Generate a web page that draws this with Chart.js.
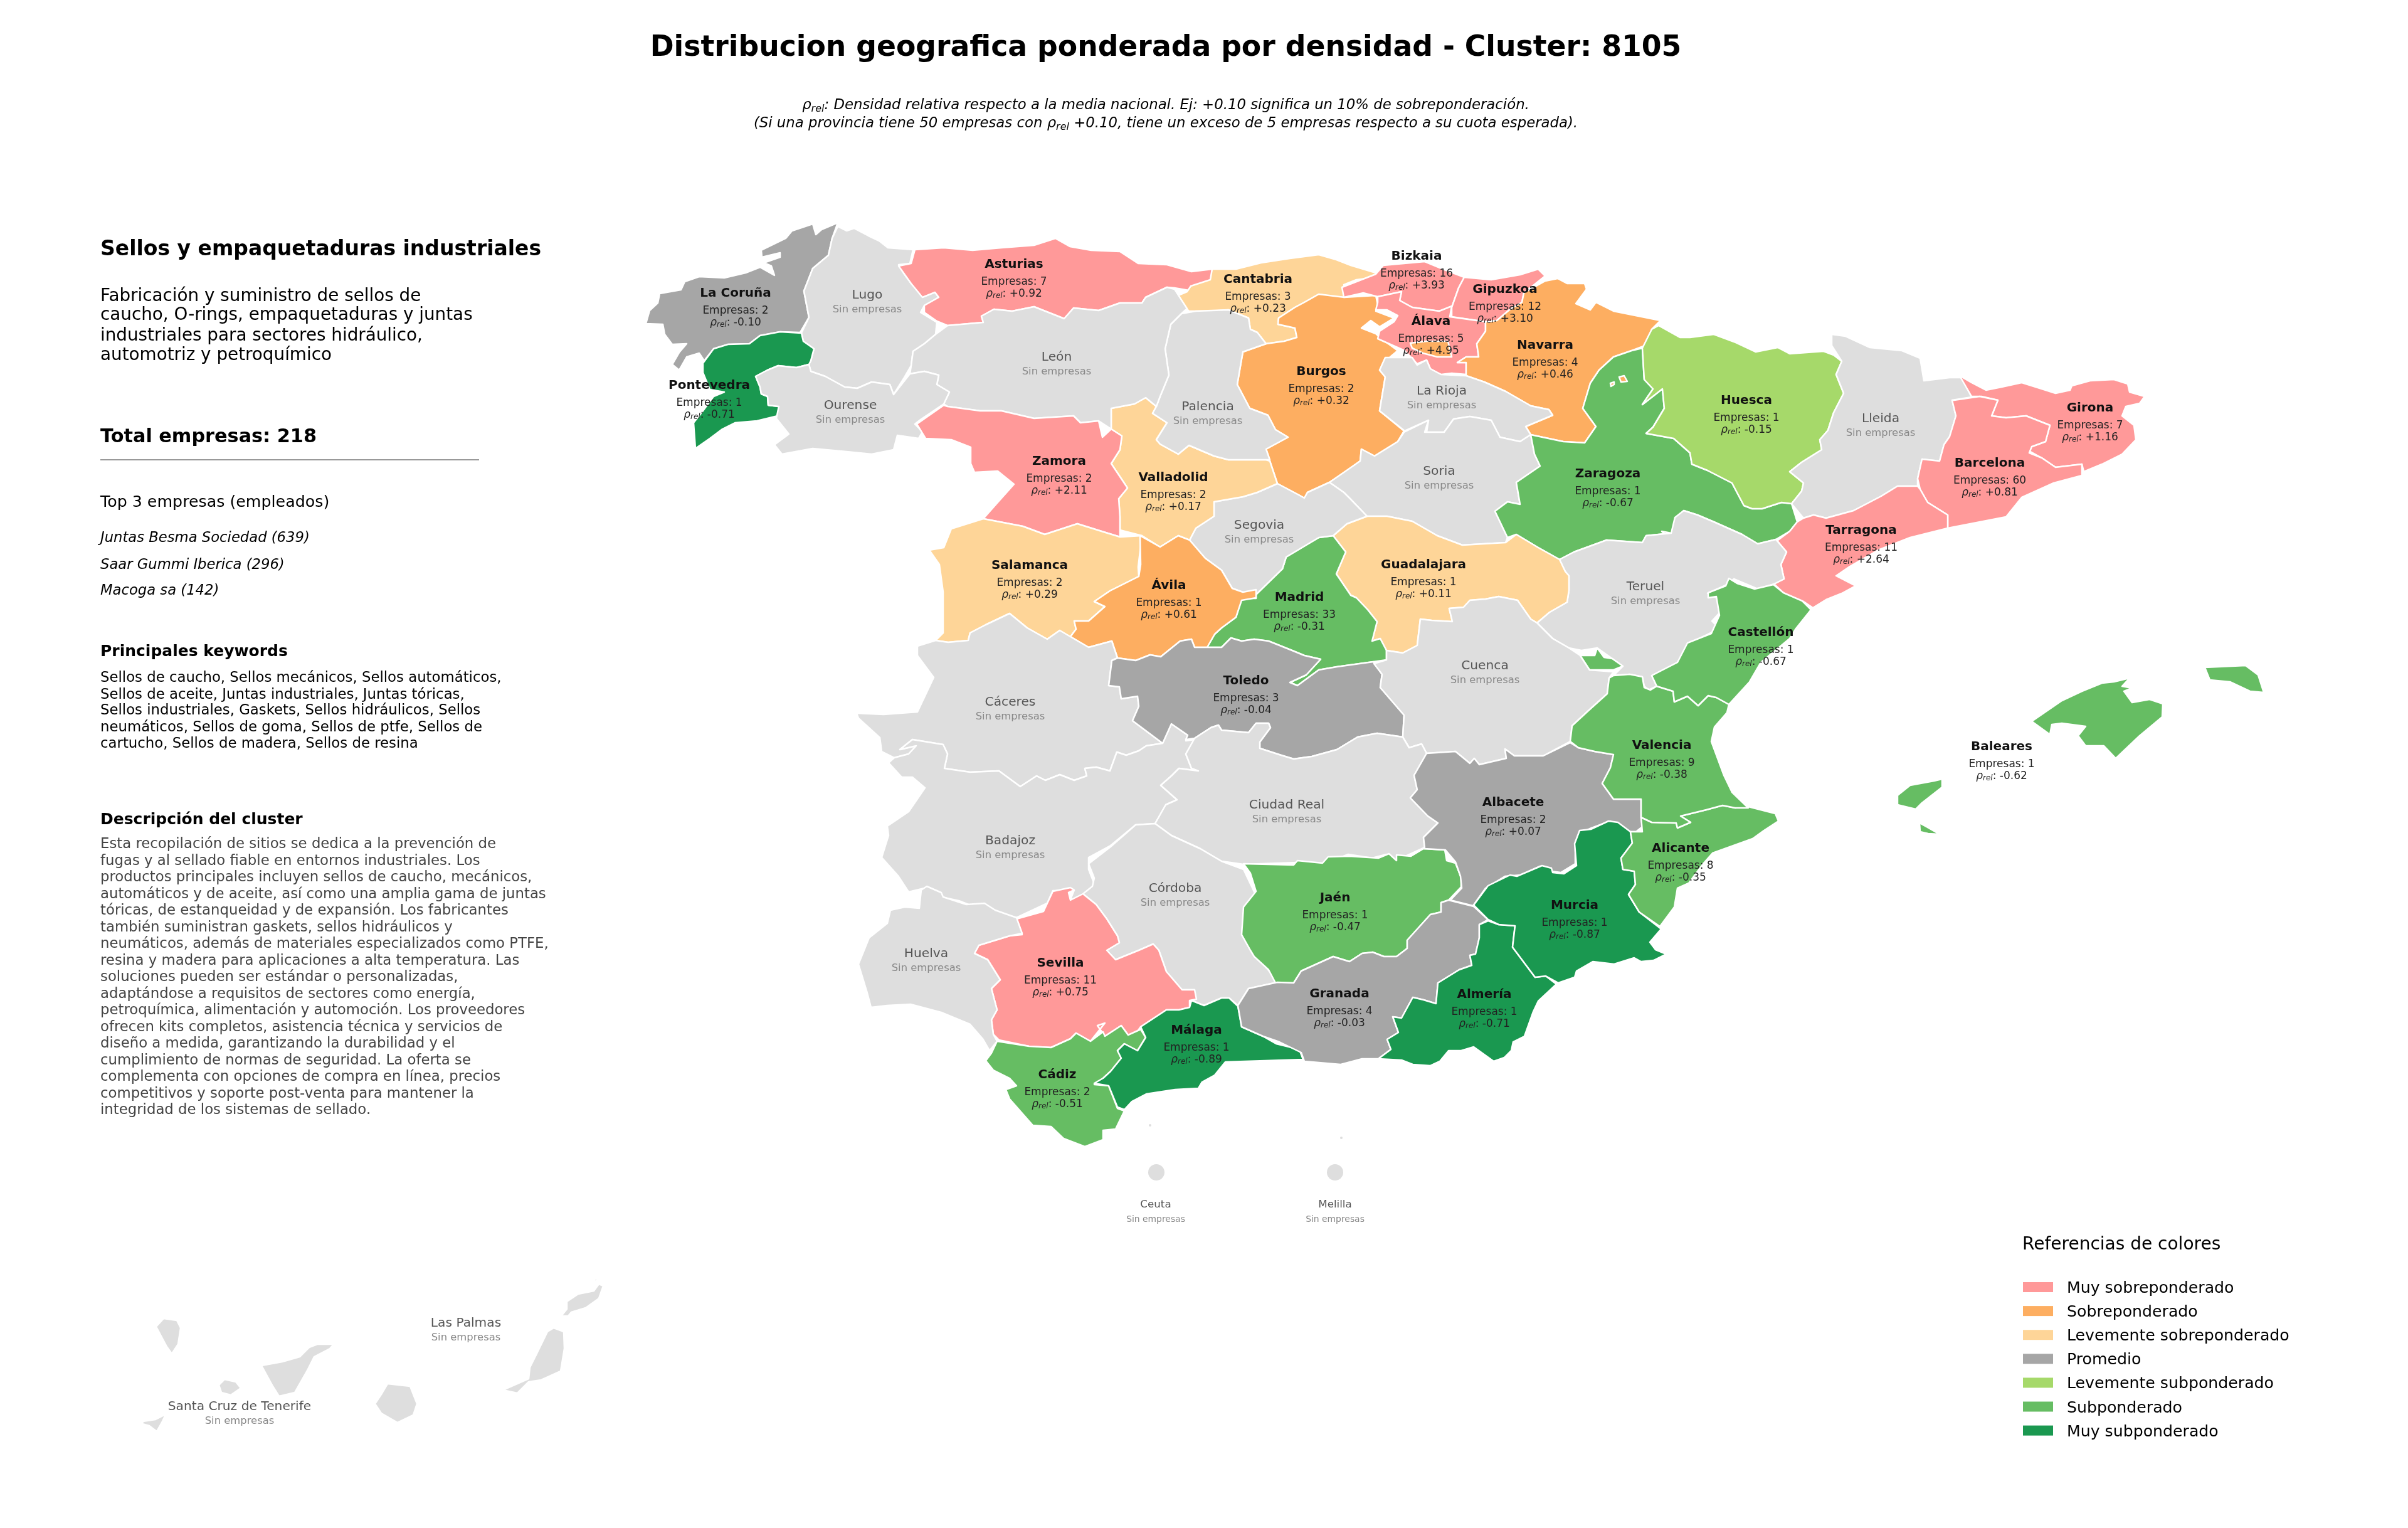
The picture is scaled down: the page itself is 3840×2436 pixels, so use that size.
<!DOCTYPE html>
<html>
<head>
<meta charset="utf-8">
<title>Cluster 8105</title>
<script src="https://cdn.jsdelivr.net/npm/chart.js@4/dist/chart.umd.js"></script>
<style>
  html, body { margin: 0; padding: 0; background: #fff; }
  canvas { display: block; }
</style>
</head>
<body>
<canvas id="map" width="3840" height="2436" style="width:3840px;height:2436px"></canvas>
<script>
// Province table, same order in every list
const provinceNames = ['La Coruña','Pontevedra','Lugo','Asturias','Cantabria','Burgos','Bizkaia','Gipuzkoa','Álava','Navarra','La Rioja','Soria','Zaragoza','Huesca','Lleida','Girona','Barcelona','Tarragona','Teruel','Guadalajara','Madrid','Segovia','Valladolid','Palencia','León','Ourense','Zamora','Salamanca','Ávila','Cáceres','Badajoz','Toledo','Cuenca','Ciudad Real','Córdoba','Sevilla','Huelva','Cádiz','Málaga','Jaén','Albacete','Granada','Almería','Murcia','Alicante','Valencia','Castellón','Baleares','Ceuta','Melilla','Las Palmas','Santa Cruz de Tenerife'];
const empresas = [2,1,0,7,3,2,16,12,5,4,0,0,1,1,0,7,60,11,0,1,33,0,2,0,0,0,2,2,1,0,0,3,0,0,0,11,0,2,1,1,2,4,1,1,8,9,1,1,0,0,0,0];
const rhoRel = ['-0.10','-0.71','','+0.92','+0.23','+0.32','+3.93','+3.10','+4.95','+0.46','','','-0.67','-0.15','','+1.16','+0.81','+2.64','','+0.11','-0.31','','+0.17','','','','+2.11','+0.29','+0.61','','','-0.04','','','','+0.75','','-0.51','-0.89','-0.47','+0.07','-0.03','-0.71','-0.87','-0.35','-0.38','-0.67','-0.62','','','',''];
const labelX = [1173,1131,1383,1617,2006,2107,2259,2400,2282,2464,2299,2295,2564,2785,2999,3333,3173,2968,2624,2270,2072,2008,1871,1926,1685,1356,1689,1642,1864,1611,1611,1987,2368,2052,1874,1691,1477,1686,1908,2129,2413,2136,2367,2511,2680,2650,2808,3192,1843,2129,743,382];
const labelY = [468,615,471,422,446,593,409,462,513,551,624,752,756,639,668,651,739,846,936,901,953,838,762,649,570,647,736,902,934,1120,1341,1086,1062,1284,1417,1536,1521,1714,1643,1432,1280,1585,1586,1444,1353,1189,1009,1191,1921,1921,2110,2243];

// Legend
const classNames = ['Muy sobreponderado','Sobreponderado','Levemente sobreponderado','Promedio','Levemente subponderado','Subponderado','Muy subponderado'];
const classColors = ['#ff9999','#fdae61','#fed598','#a6a6a6','#a6d96a','#66bd63','#1a9850','#dedede'];

// Outlines, in picture pixels
const laCoruna = [[1336,355],[1327,380],[1321,407],[1296,428],[1282,464],[1290,506],[1276,530],[1244,529],[1212,535],[1195,548],[1161,549],[1138,556],[1123,575],[1115,563],[1095,569],[1083,590],[1072,581],[1083,562],[1095,548],[1072,549],[1060,533],[1057,517],[1030,516],[1036,495],[1049,483],[1052,468],[1086,462],[1092,449],[1115,441],[1155,443],[1189,435],[1212,426],[1235,439],[1230,424],[1218,419],[1244,410],[1244,403],[1215,410],[1214,399],[1253,380],[1263,368],[1296,357],[1301,374],[1310,366]];
const pontevedra = [[1278,531],[1281,544],[1298,556],[1293,575],[1290,581],[1270,586],[1241,583],[1224,590],[1205,600],[1212,617],[1214,628],[1224,632],[1225,646],[1242,648],[1240,663],[1207,671],[1172,674],[1152,684],[1132,699],[1109,715],[1106,674],[1118,659],[1138,632],[1155,625],[1132,621],[1121,594],[1121,579],[1138,556],[1161,549],[1195,548],[1212,535],[1244,529]];
const lugo = [[1336,361],[1350,368],[1362,364],[1385,376],[1402,384],[1416,395],[1456,398],[1451,420],[1433,422],[1442,437],[1453,452],[1471,472],[1491,466],[1497,474],[1474,487],[1468,498],[1494,514],[1492,533],[1474,548],[1456,560],[1453,583],[1442,602],[1425,629],[1419,613],[1390,609],[1367,619],[1347,617],[1316,600],[1293,592],[1290,581],[1293,575],[1298,556],[1281,544],[1278,531],[1290,506],[1282,464],[1296,428],[1321,407],[1327,380]];
const asturias = [[1459,398],[1505,395],[1551,399],[1597,395],[1649,391],[1683,380],[1706,393],[1740,399],[1786,401],[1815,420],[1861,422],[1900,433],[1933,429],[1933,450],[1896,463],[1873,459],[1861,458],[1827,474],[1821,483],[1786,483],[1752,495],[1712,491],[1697,508],[1649,489],[1614,496],[1585,493],[1565,504],[1568,514],[1511,519],[1494,512],[1474,498],[1474,487],[1497,474],[1491,466],[1471,474],[1453,452],[1433,424],[1453,420]];
const cantabria = [[1933,429],[1971,429],[2011,419],[2057,412],[2103,406],[2131,414],[2154,423],[2194,435],[2194,442],[2163,446],[2143,454],[2144,474],[2126,473],[2103,469],[2080,482],[2065,490],[2039,507],[2038,517],[2065,523],[2068,538],[2048,544],[2019,548],[2005,530],[1994,525],[1991,507],[1959,494],[1930,496],[1896,496],[1890,490],[1874,473],[1893,465],[1899,456],[1930,446]];
const burgos = [[2103,469],[2144,474],[2194,471],[2197,486],[2194,496],[2223,507],[2200,521],[2186,511],[2171,523],[2194,532],[2203,540],[2229,559],[2217,569],[2200,590],[2209,601],[2200,655],[2239,687],[2229,704],[2192,727],[2171,716],[2169,735],[2143,754],[2120,769],[2085,785],[2080,794],[2071,789],[2037,771],[2025,735],[2019,716],[2054,697],[2034,685],[2022,662],[1993,651],[1973,613],[1979,578],[1982,561],[2019,548],[2048,544],[2068,538],[2065,523],[2038,517],[2039,507],[2065,490],[2080,482]];
const bizkaia = [[2194,437],[2206,423],[2272,417],[2301,429],[2335,442],[2326,459],[2315,490],[2295,496],[2252,490],[2232,479],[2235,465],[2197,473],[2174,467],[2143,474],[2140,458]];
const gipuzkoa = [[2335,442],[2378,446],[2424,438],[2453,429],[2464,440],[2430,467],[2427,482],[2407,494],[2387,511],[2369,513],[2315,505],[2315,490],[2326,459]];
const alava = [[2197,473],[2235,465],[2232,479],[2252,490],[2295,496],[2315,488],[2312,505],[2369,513],[2369,528],[2355,548],[2358,569],[2338,569],[2324,578],[2338,578],[2338,597],[2315,595],[2298,597],[2281,588],[2275,574],[2260,580],[2240,559],[2197,540],[2200,528],[2223,513],[2229,503],[2212,494],[2194,494],[2197,482]];
const trevino = [[2249,547],[2275,544],[2309,544],[2315,569],[2292,569],[2269,563],[2252,555]];
const navarra = [[2430,467],[2464,448],[2484,444],[2499,452],[2527,452],[2530,461],[2513,484],[2536,494],[2545,482],[2573,496],[2648,511],[2634,525],[2631,548],[2602,559],[2573,569],[2550,590],[2536,611],[2524,651],[2545,680],[2527,706],[2493,704],[2441,693],[2433,680],[2476,662],[2470,653],[2441,647],[2401,624],[2367,609],[2338,599],[2338,578],[2324,578],[2338,569],[2358,569],[2355,548],[2369,528],[2369,513],[2387,511],[2407,494],[2427,482]];
const laRioja = [[2209,570],[2252,570],[2260,582],[2275,574],[2281,588],[2298,597],[2338,599],[2367,609],[2401,624],[2441,647],[2470,653],[2476,662],[2433,680],[2441,693],[2424,704],[2392,697],[2378,670],[2344,664],[2318,668],[2303,689],[2275,689],[2278,670],[2240,687],[2200,655],[2209,601],[2200,590]];
const soria = [[2239,689],[2278,670],[2272,689],[2303,689],[2318,668],[2344,664],[2378,670],[2392,697],[2424,704],[2441,693],[2447,724],[2456,743],[2418,769],[2424,804],[2404,800],[2384,815],[2404,857],[2401,865],[2332,869],[2292,854],[2252,831],[2212,823],[2180,823],[2154,796],[2143,785],[2120,769],[2169,735],[2171,716],[2192,727],[2229,704]];
const zaragoza = [[2619,555],[2622,605],[2636,620],[2619,645],[2651,620],[2654,651],[2636,681],[2625,691],[2669,699],[2695,722],[2698,740],[2723,750],[2762,770],[2781,806],[2794,811],[2810,811],[2841,801],[2857,803],[2866,832],[2854,847],[2832,860],[2803,867],[2778,852],[2733,832],[2707,821],[2685,814],[2672,832],[2676,847],[2660,857],[2650,847],[2665,850],[2625,854],[2619,865],[2562,861],[2510,880],[2487,892],[2453,873],[2418,852],[2404,857],[2384,815],[2404,800],[2424,804],[2418,769],[2456,743],[2447,724],[2441,693],[2493,704],[2527,706],[2545,680],[2524,651],[2536,611],[2550,590],[2573,569],[2602,559]];
const petilla = [[2582,601],[2590,599],[2595,608],[2585,609]];
const petillaEast = [[2568,611],[2574,609],[2574,613],[2569,616]];
const huesca = [[2645,519],[2679,538],[2695,538],[2733,533],[2768,546],[2800,561],[2835,554],[2854,564],[2908,560],[2924,566],[2937,576],[2928,597],[2940,627],[2924,658],[2915,686],[2902,701],[2905,717],[2873,737],[2854,752],[2876,770],[2873,783],[2857,803],[2841,801],[2810,811],[2794,811],[2781,806],[2762,770],[2723,750],[2698,740],[2695,722],[2669,699],[2625,691],[2636,681],[2654,651],[2651,620],[2619,645],[2636,620],[2622,605],[2619,555],[2634,525]];
const lleida = [[2921,533],[2943,536],[2982,554],[3033,559],[3062,571],[3068,607],[3109,602],[3128,602],[3144,633],[3113,638],[3119,663],[3109,696],[3100,709],[3093,735],[3065,732],[3058,763],[3058,775],[3026,775],[3000,791],[2956,814],[2912,826],[2892,821],[2876,826],[2857,803],[2873,783],[2876,770],[2854,752],[2873,737],[2905,717],[2902,701],[2915,686],[2924,658],[2940,627],[2928,597],[2937,576],[2921,551]];
const girona = [[3125,599],[3144,610],[3167,622],[3192,617],[3224,610],[3256,620],[3278,627],[3301,622],[3304,615],[3333,607],[3371,605],[3393,612],[3396,625],[3420,632],[3412,643],[3390,648],[3384,663],[3403,678],[3406,701],[3384,724],[3352,740],[3323,752],[3320,740],[3278,745],[3256,730],[3236,719],[3240,712],[3262,704],[3269,678],[3231,663],[3199,666],[3176,663],[3186,638],[3160,632],[3144,632]];
const barcelona = [[3116,638],[3157,632],[3186,638],[3176,663],[3199,666],[3231,663],[3269,678],[3262,704],[3240,712],[3236,722],[3256,730],[3278,745],[3320,740],[3320,758],[3275,770],[3224,793],[3199,824],[3106,842],[3106,821],[3090,811],[3074,801],[3062,780],[3058,763],[3065,732],[3093,735],[3100,709],[3109,696],[3119,663],[3113,638]];
const tarragona = [[3058,775],[3062,780],[3074,801],[3090,811],[3106,821],[3106,842],[3046,857],[2995,877],[2950,903],[2928,918],[2959,934],[2937,946],[2912,956],[2891,969],[2876,959],[2848,949],[2829,931],[2845,923],[2840,900],[2849,880],[2834,862],[2854,847],[2866,832],[2876,826],[2892,821],[2912,826],[2956,814],[3000,791],[3026,775]];
const teruel = [[2487,892],[2510,880],[2562,861],[2619,865],[2625,854],[2665,850],[2671,825],[2685,814],[2707,821],[2733,832],[2778,852],[2803,867],[2832,860],[2849,880],[2840,900],[2845,923],[2829,931],[2803,939],[2765,923],[2752,933],[2723,946],[2739,954],[2742,977],[2730,990],[2742,1002],[2695,1025],[2675,1056],[2634,1077],[2642,1094],[2629,1100],[2622,1094],[2619,1079],[2599,1075],[2573,1077],[2588,1062],[2571,1050],[2547,1033],[2522,1037],[2502,1033],[2476,1018],[2451,993],[2471,976],[2499,960],[2502,941],[2502,918],[2496,911]];
const guadalajara = [[2180,823],[2212,823],[2252,831],[2292,854],[2332,869],[2401,865],[2418,852],[2453,873],[2487,892],[2496,911],[2502,918],[2502,941],[2499,960],[2471,976],[2451,993],[2441,987],[2420,957],[2390,951],[2369,955],[2344,957],[2334,968],[2311,970],[2316,991],[2283,989],[2265,987],[2260,1029],[2237,1041],[2211,1037],[2201,1018],[2188,1022],[2196,991],[2181,972],[2163,953],[2154,949],[2131,915],[2146,880],[2126,854],[2148,835]];
const madrid = [[2126,854],[2146,880],[2131,915],[2154,949],[2163,953],[2181,972],[2196,991],[2188,1022],[2201,1018],[2211,1037],[2211,1052],[2190,1055],[2132,1063],[2103,1068],[2069,1093],[2057,1088],[2083,1076],[2106,1051],[2080,1045],[2058,1036],[2023,1022],[2000,1019],[1980,1022],[1963,1017],[1948,1032],[1925,1032],[1937,1011],[1948,1001],[1971,984],[1980,954],[2003,954],[2003,938],[2045,907],[2051,888],[2103,857]];
const segovia = [[2037,771],[2071,789],[2080,794],[2085,785],[2120,769],[2143,785],[2154,796],[2180,823],[2148,835],[2126,854],[2103,857],[2051,888],[2045,907],[2002,949],[1982,944],[1965,938],[1948,909],[1922,890],[1897,861],[1907,842],[1936,823],[1936,800],[1982,792],[2005,785]];
const valladolid = [[1772,651],[1809,644],[1827,634],[1844,648],[1838,659],[1861,674],[1844,701],[1850,708],[1879,724],[1896,710],[1936,727],[1959,733],[2019,733],[2025,735],[2037,771],[2005,785],[1982,792],[1936,800],[1936,823],[1907,842],[1897,861],[1879,854],[1850,872],[1821,854],[1786,845],[1786,824],[1784,795],[1798,778],[1772,739],[1786,717],[1789,695],[1772,684]];
const palencia = [[1884,500],[1907,496],[1959,494],[1991,507],[1994,525],[2005,530],[2019,548],[1982,561],[1979,578],[1973,613],[1993,651],[2022,662],[2034,685],[2054,697],[2019,716],[2025,733],[1959,733],[1936,727],[1896,710],[1879,724],[1850,708],[1844,701],[1861,674],[1838,659],[1844,648],[1850,632],[1864,598],[1858,556],[1867,517]];
const leon = [[1511,519],[1568,514],[1565,504],[1585,493],[1614,496],[1649,489],[1697,508],[1712,491],[1752,495],[1786,483],[1821,483],[1827,474],[1861,458],[1873,461],[1893,492],[1884,500],[1867,517],[1858,556],[1864,598],[1850,632],[1844,648],[1827,634],[1809,644],[1772,651],[1772,684],[1752,671],[1723,674],[1712,663],[1649,667],[1597,655],[1563,655],[1511,648],[1505,644],[1514,625],[1494,613],[1497,598],[1474,592],[1451,596],[1453,583],[1456,560],[1474,548],[1492,533]];
const ourense = [[1205,600],[1224,590],[1241,583],[1270,586],[1290,581],[1293,592],[1316,600],[1347,617],[1367,619],[1390,609],[1419,613],[1425,629],[1451,596],[1474,592],[1497,598],[1494,613],[1514,625],[1505,644],[1468,669],[1459,676],[1471,688],[1465,699],[1431,694],[1425,717],[1390,724],[1350,720],[1296,715],[1247,724],[1235,709],[1258,692],[1238,667],[1242,648],[1225,646],[1224,632],[1214,628],[1212,617]];
const zamora = [[1505,646],[1511,648],[1563,655],[1597,655],[1649,667],[1712,663],[1723,674],[1752,671],[1758,697],[1772,684],[1789,695],[1786,717],[1772,739],[1798,778],[1784,795],[1786,824],[1786,856],[1763,849],[1718,835],[1666,852],[1631,839],[1568,827],[1591,801],[1617,772],[1591,751],[1554,753],[1548,739],[1548,713],[1517,701],[1476,699],[1462,676]];
const salamanca = [[1568,827],[1631,839],[1666,852],[1718,835],[1763,849],[1786,856],[1821,854],[1815,904],[1816,919],[1770,942],[1745,959],[1762,967],[1736,990],[1713,990],[1716,1003],[1707,1015],[1693,1015],[1690,1005],[1670,1019],[1638,1001],[1610,978],[1572,996],[1547,1009],[1544,1021],[1512,1024],[1492,1021],[1504,1009],[1504,944],[1498,900],[1482,877],[1505,873],[1517,843]];
const avila = [[1818,854],[1850,872],[1879,854],[1897,861],[1922,890],[1948,909],[1965,938],[1982,944],[2003,940],[2003,953],[1980,957],[1971,984],[1948,1001],[1937,1011],[1925,1032],[1905,1032],[1900,1019],[1882,1022],[1851,1047],[1834,1044],[1811,1053],[1782,1049],[1773,1022],[1736,1032],[1707,1015],[1716,1003],[1713,990],[1736,990],[1762,967],[1745,959],[1770,942],[1816,919],[1819,900]];
const caceres = [[1492,1021],[1512,1024],[1544,1021],[1547,1009],[1572,996],[1610,978],[1638,1001],[1670,1019],[1690,1005],[1707,1015],[1736,1032],[1773,1022],[1782,1049],[1773,1053],[1768,1093],[1785,1095],[1788,1114],[1814,1110],[1816,1126],[1806,1149],[1854,1185],[1828,1189],[1816,1197],[1796,1204],[1781,1199],[1770,1229],[1748,1223],[1730,1225],[1733,1237],[1713,1244],[1690,1235],[1667,1244],[1653,1237],[1627,1254],[1593,1229],[1547,1231],[1506,1225],[1511,1202],[1504,1187],[1455,1179],[1435,1195],[1461,1189],[1449,1202],[1426,1208],[1406,1198],[1403,1176],[1369,1145],[1366,1137],[1409,1139],[1463,1135],[1489,1080],[1463,1045],[1463,1030]];
const badajoz = [[1426,1208],[1449,1202],[1461,1189],[1435,1195],[1455,1179],[1504,1187],[1511,1202],[1506,1225],[1547,1231],[1593,1229],[1627,1254],[1653,1237],[1667,1244],[1690,1235],[1713,1244],[1733,1237],[1730,1225],[1748,1223],[1770,1229],[1781,1199],[1796,1204],[1816,1197],[1828,1189],[1854,1185],[1868,1154],[1894,1172],[1891,1181],[1905,1179],[1891,1202],[1900,1225],[1911,1229],[1880,1225],[1868,1237],[1851,1252],[1877,1275],[1859,1283],[1842,1313],[1811,1315],[1771,1348],[1736,1367],[1736,1386],[1745,1409],[1733,1424],[1719,1434],[1707,1434],[1713,1419],[1679,1420],[1670,1440],[1621,1463],[1587,1453],[1570,1447],[1547,1443],[1529,1436],[1501,1430],[1478,1415],[1449,1422],[1432,1396],[1406,1367],[1417,1332],[1415,1317],[1449,1294],[1475,1256],[1455,1239],[1438,1239],[1417,1216]];
const toledo = [[1773,1053],[1782,1049],[1811,1053],[1834,1044],[1851,1047],[1882,1022],[1900,1019],[1905,1032],[1925,1032],[1948,1032],[1963,1017],[1980,1022],[2000,1019],[2023,1022],[2058,1036],[2080,1045],[2106,1051],[2083,1076],[2057,1088],[2069,1093],[2103,1068],[2132,1063],[2190,1055],[2204,1075],[2201,1096],[2239,1140],[2237,1175],[2196,1169],[2165,1175],[2132,1195],[2092,1206],[2063,1210],[2043,1204],[2009,1193],[2009,1183],[2026,1160],[2023,1153],[2003,1153],[1991,1168],[1948,1164],[1943,1156],[1931,1160],[1905,1177],[1891,1179],[1894,1172],[1868,1154],[1854,1185],[1806,1149],[1816,1126],[1814,1110],[1788,1114],[1785,1095],[1768,1093]];
const cuenca = [[2191,1058],[2211,1052],[2211,1037],[2237,1041],[2260,1029],[2265,987],[2283,989],[2316,991],[2311,970],[2334,968],[2344,957],[2369,955],[2390,951],[2420,957],[2441,987],[2451,993],[2476,1018],[2502,1033],[2520,1045],[2535,1068],[2573,1071],[2566,1081],[2563,1106],[2533,1133],[2507,1157],[2504,1182],[2461,1205],[2415,1205],[2400,1194],[2402,1209],[2359,1219],[2351,1209],[2344,1217],[2321,1198],[2275,1201],[2267,1186],[2247,1192],[2237,1175],[2239,1140],[2201,1096],[2204,1075]];
const ciudadReal = [[1905,1177],[1931,1160],[1943,1156],[1948,1164],[1991,1168],[2003,1153],[2023,1153],[2026,1160],[2009,1183],[2009,1193],[2043,1204],[2063,1210],[2092,1206],[2132,1195],[2165,1175],[2196,1169],[2237,1175],[2247,1192],[2267,1186],[2275,1201],[2255,1236],[2260,1259],[2249,1272],[2277,1301],[2293,1312],[2270,1335],[2272,1351],[2226,1372],[2211,1362],[2188,1368],[2150,1362],[2109,1378],[2069,1375],[1983,1378],[1948,1373],[1914,1353],[1868,1332],[1842,1313],[1859,1283],[1877,1275],[1851,1252],[1868,1237],[1880,1225],[1911,1229],[1900,1225],[1891,1202]];
const cordoba = [[1842,1313],[1868,1332],[1914,1353],[1948,1373],[1983,1386],[1994,1409],[2003,1428],[1983,1455],[1980,1490],[1994,1515],[2023,1547],[2037,1566],[1991,1576],[1974,1603],[1960,1591],[1948,1591],[1920,1603],[1900,1595],[1905,1578],[1885,1578],[1860,1549],[1848,1515],[1839,1505],[1816,1515],[1779,1530],[1765,1515],[1785,1503],[1782,1492],[1765,1465],[1748,1442],[1727,1425],[1742,1413],[1745,1400],[1736,1377],[1771,1350],[1811,1315]];
const sevilla = [[1707,1415],[1713,1419],[1704,1423],[1707,1435],[1727,1425],[1748,1442],[1765,1465],[1782,1492],[1785,1503],[1765,1515],[1779,1530],[1816,1515],[1839,1505],[1848,1515],[1860,1549],[1885,1578],[1905,1578],[1908,1593],[1897,1595],[1897,1606],[1880,1610],[1860,1610],[1819,1637],[1808,1652],[1799,1650],[1788,1635],[1762,1652],[1750,1635],[1762,1631],[1742,1656],[1739,1660],[1716,1647],[1707,1656],[1676,1670],[1641,1668],[1593,1658],[1584,1649],[1581,1626],[1590,1610],[1581,1576],[1595,1562],[1575,1530],[1554,1520],[1561,1507],[1610,1492],[1630,1490],[1621,1465],[1664,1453],[1679,1421]];
const huelva = [[1478,1413],[1501,1423],[1504,1430],[1541,1442],[1570,1440],[1587,1451],[1621,1463],[1630,1488],[1610,1492],[1561,1507],[1554,1520],[1575,1530],[1595,1562],[1581,1576],[1590,1610],[1581,1626],[1584,1649],[1590,1660],[1578,1675],[1567,1656],[1547,1633],[1501,1614],[1452,1601],[1415,1603],[1389,1606],[1383,1583],[1369,1537],[1386,1495],[1415,1472],[1420,1451],[1443,1446],[1466,1448],[1469,1419]];
const cadiz = [[1590,1660],[1641,1668],[1676,1670],[1707,1656],[1716,1647],[1739,1660],[1759,1645],[1762,1652],[1788,1635],[1799,1650],[1819,1641],[1827,1654],[1814,1675],[1793,1664],[1782,1675],[1788,1687],[1771,1708],[1759,1719],[1745,1729],[1768,1731],[1782,1767],[1793,1771],[1779,1800],[1759,1802],[1759,1817],[1730,1828],[1696,1815],[1676,1796],[1647,1794],[1610,1752],[1604,1737],[1621,1731],[1610,1719],[1584,1706],[1572,1691],[1581,1679]];
const malaga = [[1900,1595],[1920,1603],[1948,1591],[1960,1591],[1974,1604],[1980,1637],[2014,1652],[2035,1664],[2072,1673],[2078,1689],[2017,1691],[1954,1693],[1937,1714],[1917,1725],[1911,1735],[1874,1737],[1828,1744],[1805,1756],[1793,1769],[1782,1765],[1768,1731],[1745,1727],[1759,1719],[1771,1708],[1788,1687],[1782,1675],[1793,1664],[1814,1675],[1827,1654],[1819,1637],[1860,1610],[1880,1610],[1897,1606]];
const jaen = [[1983,1377],[2063,1379],[2069,1372],[2109,1376],[2118,1366],[2152,1365],[2198,1368],[2215,1361],[2227,1372],[2227,1363],[2250,1365],[2270,1353],[2304,1355],[2307,1372],[2321,1376],[2330,1399],[2330,1414],[2310,1435],[2298,1439],[2298,1454],[2281,1458],[2244,1499],[2244,1512],[2227,1525],[2207,1525],[2189,1518],[2172,1520],[2152,1533],[2126,1525],[2075,1548],[2063,1567],[2034,1567],[2023,1546],[2000,1525],[1994,1515],[1980,1490],[1983,1446],[2003,1421],[1994,1392]];
const albacete = [[2275,1201],[2321,1198],[2344,1217],[2351,1209],[2359,1219],[2402,1209],[2400,1194],[2415,1205],[2461,1205],[2504,1184],[2517,1192],[2543,1198],[2573,1203],[2568,1224],[2555,1249],[2573,1274],[2617,1274],[2617,1303],[2619,1318],[2609,1326],[2599,1326],[2568,1309],[2538,1320],[2520,1328],[2512,1347],[2512,1377],[2489,1391],[2474,1389],[2456,1381],[2425,1395],[2400,1397],[2369,1416],[2349,1444],[2313,1435],[2331,1416],[2329,1397],[2321,1374],[2305,1355],[2272,1353],[2270,1335],[2293,1312],[2277,1301],[2249,1272],[2260,1259],[2255,1236]];
const granada = [[2075,1548],[2126,1525],[2152,1533],[2172,1520],[2189,1518],[2207,1525],[2227,1525],[2244,1512],[2244,1499],[2281,1458],[2298,1454],[2298,1439],[2310,1435],[2350,1445],[2373,1466],[2359,1474],[2359,1495],[2353,1521],[2344,1523],[2347,1539],[2327,1546],[2293,1567],[2290,1600],[2270,1594],[2253,1590],[2235,1623],[2221,1621],[2230,1646],[2212,1657],[2218,1673],[2198,1688],[2172,1688],[2138,1697],[2080,1692],[2075,1678],[2040,1661],[2014,1652],[1980,1637],[1974,1603],[1991,1576],[2037,1566],[2063,1567]];
const almeria = [[2373,1468],[2390,1474],[2416,1476],[2412,1510],[2448,1558],[2465,1556],[2482,1569],[2453,1596],[2445,1613],[2431,1652],[2413,1661],[2410,1675],[2399,1686],[2382,1692],[2350,1669],[2330,1675],[2310,1675],[2296,1692],[2281,1699],[2253,1697],[2235,1690],[2198,1688],[2218,1673],[2212,1657],[2230,1646],[2221,1621],[2235,1623],[2253,1590],[2270,1594],[2290,1600],[2293,1567],[2327,1546],[2347,1539],[2344,1523],[2353,1521],[2359,1495],[2359,1474]];
const murcia = [[2350,1443],[2373,1412],[2408,1395],[2419,1397],[2459,1380],[2474,1384],[2476,1391],[2494,1393],[2514,1380],[2511,1345],[2519,1324],[2537,1322],[2565,1309],[2580,1311],[2600,1326],[2603,1344],[2585,1368],[2588,1386],[2606,1389],[2608,1410],[2597,1426],[2614,1454],[2649,1481],[2631,1502],[2640,1514],[2657,1521],[2637,1531],[2617,1533],[2606,1527],[2574,1537],[2540,1533],[2514,1548],[2511,1558],[2485,1567],[2465,1556],[2448,1558],[2412,1510],[2416,1476],[2390,1474],[2373,1466]];
const alicante = [[2617,1303],[2634,1311],[2673,1312],[2675,1320],[2696,1311],[2680,1301],[2721,1291],[2747,1284],[2767,1288],[2788,1286],[2831,1297],[2836,1309],[2813,1324],[2795,1337],[2731,1360],[2716,1377],[2693,1408],[2675,1416],[2670,1446],[2647,1477],[2614,1454],[2597,1426],[2608,1410],[2606,1389],[2588,1386],[2585,1368],[2603,1344],[2600,1326],[2619,1326]];
const valencia = [[2566,1081],[2573,1077],[2599,1075],[2619,1079],[2622,1096],[2632,1100],[2642,1094],[2668,1102],[2670,1119],[2691,1110],[2708,1125],[2724,1109],[2737,1112],[2757,1123],[2754,1136],[2734,1159],[2729,1182],[2749,1236],[2762,1263],[2788,1288],[2767,1288],[2747,1284],[2721,1291],[2680,1301],[2696,1311],[2675,1320],[2673,1312],[2634,1311],[2617,1303],[2617,1274],[2573,1274],[2555,1249],[2568,1224],[2573,1203],[2543,1198],[2517,1192],[2504,1182],[2507,1157],[2533,1133],[2563,1106]];
const ademuz = [[2520,1045],[2543,1045],[2547,1033],[2558,1048],[2571,1050],[2588,1062],[2573,1068],[2535,1068]];
const castellon = [[2757,922],[2770,930],[2798,939],[2828,932],[2844,945],[2874,958],[2888,972],[2864,1002],[2854,1018],[2808,1056],[2790,1087],[2757,1123],[2737,1112],[2724,1109],[2708,1125],[2691,1110],[2670,1119],[2668,1102],[2642,1094],[2634,1077],[2675,1056],[2691,1025],[2729,1010],[2742,981],[2737,951],[2724,953],[2724,945],[2752,934]];
const mallorca = [[3371,1087],[3396,1081],[3384,1094],[3400,1097],[3387,1102],[3400,1120],[3428,1115],[3449,1122],[3448,1143],[3412,1173],[3374,1209],[3355,1189],[3326,1189],[3314,1173],[3326,1158],[3288,1153],[3272,1155],[3269,1171],[3240,1150],[3288,1117],[3320,1102],[3352,1089]];
const menorca = [[3516,1064],[3581,1061],[3601,1076],[3610,1104],[3588,1102],[3556,1087],[3524,1084]];
const ibiza = [[3097,1242],[3097,1255],[3065,1280],[3055,1290],[3026,1283],[3026,1268],[3046,1252],[3084,1245]];
const formentera = [[3061,1312],[3072,1318],[3093,1330],[3075,1329],[3062,1326]];
const laPalma = [[261,2102],[282,2105],[288,2117],[284,2143],[274,2158],[266,2147],[249,2115]];
const tenerife = [[532,2143],[526,2150],[501,2163],[491,2183],[470,2220],[445,2226],[435,2210],[417,2177],[450,2171],[478,2163],[493,2148],[506,2143]];
const gomera = [[358,2199],[376,2203],[384,2213],[368,2224],[353,2220],[349,2208]];
const hierro = [[264,2255],[259,2266],[250,2282],[238,2273],[227,2270],[228,2266],[248,2263]];
const granCanaria = [[618,2206],[654,2210],[665,2238],[659,2256],[634,2268],[608,2253],[598,2238],[608,2223]];
const fuerteventura = [[883,2117],[899,2123],[900,2150],[894,2186],[863,2200],[843,2203],[825,2221],[802,2216],[843,2198],[845,2180],[855,2160],[873,2123]];
const lanzarote = [[955,2047],[962,2050],[955,2070],[934,2085],[911,2092],[906,2098],[895,2098],[904,2087],[904,2075],[922,2063],[947,2058]];
const graciosa = [[951,2035],[952,2042],[947,2043]];
const ceutaMelilla = [[1844,1869],[2129,1869]];
const islets = [[1834,1794],[2139,1814]];

// Parts and their colour class, painted in this order
const paintedParts = [
  [laCoruna,3],[lugo,7],[pontevedra,6],[asturias,0],[cantabria,2],[burgos,1],[bizkaia,0],[gipuzkoa,0],[alava,0],[trevino,1],[navarra,1],[laRioja,7],[soria,7],[zaragoza,5],[petilla,1],[petillaEast,1],[huesca,4],[lleida,7],[girona,0],[barcelona,0],[tarragona,0],[teruel,7],[guadalajara,2],[madrid,5],[segovia,7],[valladolid,2],[palencia,7],[leon,7],[ourense,7],[zamora,0],[salamanca,2],[avila,1],[caceres,7],[badajoz,7],[toledo,3],[cuenca,7],[ciudadReal,7],[cordoba,7],[sevilla,0],[huelva,7],[cadiz,5],[malaga,6],[jaen,5],[albacete,3],[granada,3],[almeria,6],[murcia,6],[alicante,5],[valencia,5],[ademuz,5],[castellon,5],[mallorca,5],[menorca,5],[ibiza,5],[formentera,5],[laPalma,7],[tenerife,7],[gomera,7],[hierro,7],[granCanaria,7],[fuerteventura,7],[lanzarote,7],[graciosa,7]
];

// Texts
const titleText = 'Distribucion geografica ponderada por densidad - Cluster: 8105';
const clusterName = 'Sellos y empaquetaduras industriales';
const clusterSummary = ['Fabricación y suministro de sellos de','caucho, O-rings, empaquetaduras y juntas','industriales para sectores hidráulico,','automotriz y petroquímico'];
const totalText = 'Total empresas: 218';
const topHeading = 'Top 3 empresas (empleados)';
const topCompanies = ['Juntas Besma Sociedad (639)','Saar Gummi Iberica (296)','Macoga sa (142)'];
const keywordsHeading = 'Principales keywords';
const keywordLines = ['Sellos de caucho, Sellos mecánicos, Sellos automáticos,','Sellos de aceite, Juntas industriales, Juntas tóricas,','Sellos industriales, Gaskets, Sellos hidráulicos, Sellos','neumáticos, Sellos de goma, Sellos de ptfe, Sellos de','cartucho, Sellos de madera, Sellos de resina'];
const descHeading = 'Descripción del cluster';
const descLines = ['Esta recopilación de sitios se dedica a la prevención de','fugas y al sellado fiable en entornos industriales. Los','productos principales incluyen sellos de caucho, mecánicos,','automáticos y de aceite, así como una amplia gama de juntas','tóricas, de estanqueidad y de expansión. Los fabricantes','también suministran gaskets, sellos hidráulicos y','neumáticos, además de materiales especializados como PTFE,','resina y madera para aplicaciones a alta temperatura. Las','soluciones pueden ser estándar o personalizadas,','adaptándose a requisitos de sectores como energía,','petroquímica, alimentación y automoción. Los proveedores','ofrecen kits completos, asistencia técnica y servicios de','diseño a medida, garantizando la durabilidad y el','cumplimiento de normas de seguridad. La oferta se','complementa con opciones de compra en línea, precios','competitivos y soporte post-venta para mantener la','integridad de los sistemas de sellado.'];

const FONT = '"DejaVu Sans"';

function text(ctx, str, x, y, font, color, align) {
  ctx.font = font + ' ' + FONT;
  ctx.fillStyle = color;
  ctx.textAlign = align || 'left';
  ctx.fillText(str, x, y);
}

// centred run of text pieces, used for the rho_rel subscript
function runs(ctx, pieces, cx, y, color) {
  ctx.textAlign = 'left';
  ctx.fillStyle = color;
  let total = 0;
  pieces.forEach(p => { ctx.font = p[1] + ' ' + FONT; total += ctx.measureText(p[0]).width; });
  let x = cx - total / 2;
  pieces.forEach(p => {
    ctx.font = p[1] + ' ' + FONT;
    ctx.fillText(p[0], x, y + (p[2] || 0));
    x += ctx.measureText(p[0]).width;
  });
}

const mapPainter = {
  id: 'mapPainter',
  beforeDatasetsDraw(chart) {
    const ctx = chart.ctx;
    ctx.save();
    ctx.lineJoin = 'round';
    ctx.strokeStyle = '#ffffff';
    ctx.lineWidth = 2.5;
    chart.data.datasets.forEach((ds, i) => {
      if (!ds.polygon) return;
      const pts = chart.getDatasetMeta(i).data;
      ctx.beginPath();
      pts.forEach((p, k) => k ? ctx.lineTo(p.x, p.y) : ctx.moveTo(p.x, p.y));
      ctx.closePath();
      ctx.fillStyle = ds.backgroundColor;
      ctx.fill();
      ctx.stroke();
    });
    ctx.restore();
  },
  afterDatasetsDraw(chart) {
    const ctx = chart.ctx;
    ctx.save();
    ctx.textBaseline = 'alphabetic';

    // header
    text(ctx, titleText, 1859, 89, 'bold 45.7px', '#000', 'center');
    runs(ctx, [['ρ','italic 22.8px'],['rel','italic 16px',4],[': Densidad relativa respecto a la media nacional. Ej: +0.10 significa un 10% de sobreponderación.','italic 22.8px']], 1859, 174, '#000');
    runs(ctx, [['(Si una provincia tiene 50 empresas con ','italic 22.8px'],['ρ','italic 22.8px'],['rel','italic 16px',4],[' +0.10, tiene un exceso de 5 empresas respecto a su cuota esperada).','italic 22.8px']], 1859, 203, '#000');

    // left panel
    text(ctx, clusterName, 160, 407, 'bold 33px', '#000');
    [480,510,543,574].forEach((y, i) => text(ctx, clusterSummary[i], 160, y, '27.8px', '#000'));
    text(ctx, totalText, 160, 705, 'bold 30.3px', '#000');
    ctx.fillStyle = '#999';
    ctx.fillRect(160, 732, 604, 2);
    text(ctx, topHeading, 160, 808, '25.3px', '#000');
    [864,907,948].forEach((y, i) => text(ctx, topCompanies[i], 160, y, 'italic 22.7px', '#000'));
    text(ctx, keywordsHeading, 160, 1046, 'bold 25px', '#000');
    [1087,1114,1139,1166,1192].forEach((y, i) => text(ctx, keywordLines[i], 160, y, '22.8px', '#000'));
    text(ctx, descHeading, 160, 1314, 'bold 25px', '#000');
    descLines.forEach((line, i) => text(ctx, line, 160, 1352 + i * 26.5, '22.8px', '#444'));

    // province labels, positions go through the same scales as the outlines
    const sx = chart.scales.x, sy = chart.scales.y;
    ctx.textBaseline = 'middle';
    provinceNames.forEach((name, i) => {
      const x = sx.getPixelForValue(labelX[i]);
      const y = sy.getPixelForValue(labelY[i]);
      if (empresas[i] > 0) {
        text(ctx, name, x, y, 'bold 20px', '#111', 'center');
        text(ctx, 'Empresas: ' + empresas[i], x, y + 28, '17px', '#222', 'center');
        runs(ctx, [['ρ','italic 17px'],['rel','italic 12px',3],[': ' + rhoRel[i],'17px']], x, y + 47, '#222');
      } else {
        const small = name === 'Ceuta' || name === 'Melilla';
        text(ctx, name, x, y, (small ? '16.7px' : '20.2px'), '#555', 'center');
        text(ctx, 'Sin empresas', x, y + 23, (small ? '13.9px' : '16.4px'), '#888', 'center');
      }
    });

    // colour legend
    ctx.textBaseline = 'alphabetic';
    text(ctx, 'Referencias de colores', 3225, 1992, '28px', '#000');
    classNames.forEach((name, i) => {
      const y = 2052 + i * 38.1;
      ctx.fillStyle = classColors[i];
      ctx.fillRect(3226, y - 8, 48, 16);
      text(ctx, name, 3296, y + 9, '25.2px', '#000');
    });
    ctx.restore();
  }
};

const polygonSets = paintedParts.map(part => ({
  polygon: true,
  data: part[0].map(p => ({ x: p[0], y: p[1] })),
  backgroundColor: classColors[part[1]],
  showLine: false,
  pointRadius: 0
}));

new Chart(document.getElementById('map'), {
  type: 'scatter',
  data: {
    datasets: polygonSets.concat([
      { data: ceutaMelilla.map(p => ({ x: p[0], y: p[1] })), pointRadius: 13, pointBackgroundColor: classColors[7], pointBorderWidth: 0, showLine: false },
      { data: islets.map(p => ({ x: p[0], y: p[1] })), pointRadius: 2, pointBackgroundColor: classColors[7], pointBorderWidth: 0, showLine: false }
    ])
  },
  options: {
    responsive: false,
    devicePixelRatio: 1,
    animation: false,
    layout: { padding: 0, autoPadding: false },
    plugins: { legend: { display: false }, tooltip: { enabled: false } },
    scales: {
      x: { type: 'linear', min: 0, max: 3840, display: false },
      y: { type: 'linear', min: 0, max: 2436, reverse: true, display: false }
    }
  },
  plugins: [mapPainter]
});
</script>
</body>
</html>
